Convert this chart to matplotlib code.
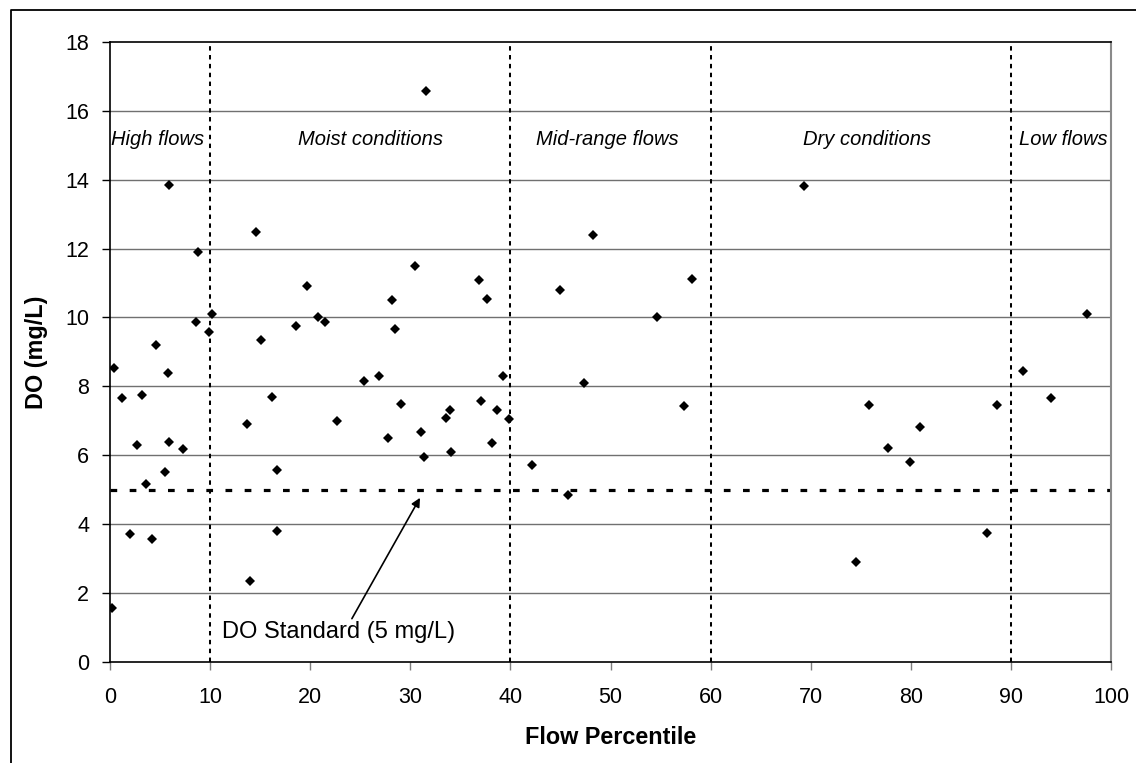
import matplotlib
matplotlib.use("Agg")
import matplotlib.pyplot as plt
from matplotlib.lines import Line2D

plt.rcParams['font.family'] = ['Liberation Sans', 'DejaVu Sans']

# Flow percentile (x) and dissolved oxygen (y) samples
flow_pct = [0.17, 0.37, 1.23, 1.97, 2.73, 3.23, 3.6, 4.23, 4.57, 5.47, 5.8, 5.93, 5.9, 7.3,
            8.63, 8.77, 9.9, 10.2,
            13.67, 13.97, 14.57, 15.13, 16.23, 16.73, 16.67, 18.57, 19.67, 20.8, 21.43, 22.63,
            25.33, 26.87, 27.77, 28.2, 28.5, 29.07, 30.5, 31.07, 31.57, 31.4, 33.57, 33.97,
            34.07, 36.87, 37.1, 37.67, 38.17, 38.63, 39.3, 39.9,
            42.13, 44.93, 45.8, 47.33, 48.27, 54.63, 57.33, 58.17,
            69.33, 74.5, 75.83, 77.77, 79.97, 80.9, 87.6, 88.57,
            91.17, 94.03, 97.6]
do_mgL = [1.55, 8.54, 7.66, 3.71, 6.30, 7.75, 5.17, 3.55, 9.20, 5.51, 8.38, 13.85, 6.37, 6.19,
          9.86, 11.91, 9.57, 10.1,
          6.89, 2.35, 12.47, 9.33, 7.70, 5.56, 3.81, 9.76, 10.9, 10.0, 9.86, 6.98,
          8.15, 8.31, 6.51, 10.5, 9.66, 7.48, 11.49, 6.66, 16.59, 5.96, 7.09, 7.31,
          6.09, 11.1, 7.58, 10.54, 6.35, 7.32, 8.31, 7.05,
          5.71, 10.81, 4.85, 8.1, 12.4, 10.01, 7.42, 11.13,
          13.81, 2.89, 7.45, 6.21, 5.81, 6.83, 3.75, 7.45,
          8.43, 7.66, 10.11]

zone_bounds = [10, 40, 60, 90]
zone_labels = ["High flows", "Moist conditions", "Mid-range flows", "Dry conditions", "Low flows"]
zone_label_x = [4.8, 26.0, 49.7, 75.6, 95.2]
zone_label_y = 15.17

do_standard = 5
x_ticks = list(range(0, 101, 10))
y_ticks = list(range(0, 19, 2))

fig = plt.figure(figsize=(11.36, 7.63), dpi=100)
ax = fig.add_axes([110/1136, 1-661.7/763, 1001/1136, 619.7/763])

ax.set_xlim(0, 100)
ax.set_ylim(0, 18)
ax.set_xticks(x_ticks)
ax.set_yticks(y_ticks)

# gridlines
for yv in y_ticks[1:-1]:
    ax.axhline(yv, color='#707070', lw=1.0, zorder=1)

ax.spines['left'].set_color('black')
ax.spines['bottom'].set_color('black')
ax.spines['top'].set_color('black')
ax.spines['right'].set_color('#8a8a8a')
for s in ax.spines.values():
    s.set_linewidth(1.2)
ax.spines['right'].set_linewidth(1.5)

ax.tick_params(axis='both', direction='out', length=6, width=1.0, color='#7f7f7f',
               labelsize=15.5)
ax.tick_params(axis='y', pad=9, color='black')
ax.tick_params(axis='x', pad=12)

# zone boundaries
for xb in zone_bounds:
    ax.axvline(xb, color='black', lw=1.45, ls=(0, (2.2, 2.2)), zorder=2)

# DO standard
ax.axhline(do_standard, color='black', lw=2.3, ls=(0, (2.1, 3.9)), zorder=2)

ax.plot(flow_pct, do_mgL, ls='none', marker='D', ms=4.8, mew=0, color='black', zorder=3)

for lx, lab in zip(zone_label_x, zone_labels):
    ax.text(lx, zone_label_y, lab, ha='center', va='center', fontsize=14.5, style='italic')

ax.annotate("DO Standard (5 mg/L)", xy=(30.97, 4.76), xytext=(11.2, 0.85),
            fontsize=17, ha='left', va='center',
            arrowprops=dict(arrowstyle='-|>', color='black', lw=1.2, mutation_scale=13,
                            shrinkA=0, shrinkB=0,
                            relpos=(0.55, 1.0)))

ax.set_xlabel("Flow Percentile", fontsize=16.8, fontweight='bold')
ax.set_ylabel("DO (mg/L)", fontsize=16.8, fontweight='bold')
ax.xaxis.set_label_coords(0.5, -0.103)
ax.yaxis.set_label_coords(-0.062, 0.5)

# outer frame (top and left edges)
fx = 10.5/1136
fy = 1 - 10/763
fig.add_artist(Line2D([fx, fx, 1.0], [0.0, fy, fy], transform=fig.transFigure,
                      color='black', lw=1.3))

fig.savefig("out.png", dpi=100)
